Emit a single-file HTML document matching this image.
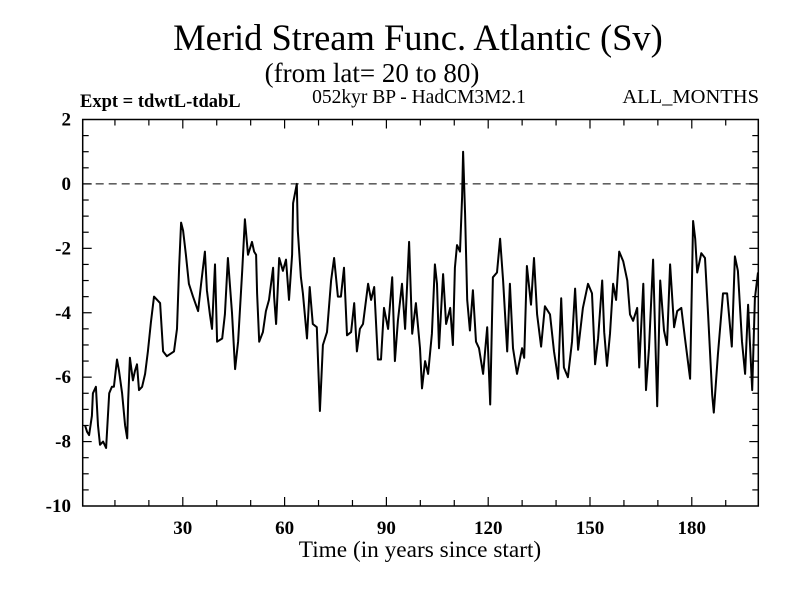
<!DOCTYPE html>
<html><head><meta charset="utf-8"><style>
html,body{margin:0;padding:0;background:#fff;}
svg{display:block;font-family:"Liberation Serif",serif;}
</style></head><body>
<svg id="chart" width="800" height="600" viewBox="0 0 800 600">
<text x="418" y="50" font-size="36.5" text-anchor="middle">Merid Stream Func. Atlantic (Sv)</text>
<text x="372" y="82" font-size="27" text-anchor="middle">(from lat= 20 to 80)</text>
<text x="80" y="107" font-size="18.5" font-weight="bold">Expt = tdwtL-tdabL</text>
<text x="419" y="103" font-size="19.5" text-anchor="middle">052kyr BP - HadCM3M2.1</text>
<text x="759" y="103" font-size="20.5" text-anchor="end">ALL_MONTHS</text>
<text x="420" y="557" font-size="23.3" text-anchor="middle">Time (in years since start)</text>
<g id="axes"></g>
<g id="series"></g>
</svg>
<script>
const years=[1.2,1.8,2.4,3.2,3.5,4.4,5.0,5.6,6.5,7.4,8.3,9.1,9.7,10.6,11.2,12.1,13.0,13.6,13.9,14.4,15.3,15.9,16.5,17.1,18.0,18.9,19.7,20.6,21.5,23.3,24.2,25.3,27.4,28.3,28.9,29.5,30.1,30.9,31.8,33.0,34.5,35.4,36.5,37.1,38.0,38.6,39.5,40.1,41.6,42.4,43.3,44.5,45.4,46.3,47.5,48.3,49.2,50.4,51.0,51.6,51.9,52.5,53.6,54.5,55.4,56.6,56.9,57.5,58.4,59.5,60.4,61.3,62.2,62.5,63.6,63.9,64.8,65.4,66.6,67.4,68.3,69.5,70.4,71.3,72.5,73.7,74.6,75.7,76.6,77.5,78.4,79.6,80.5,81.3,82.2,83.1,84.6,85.5,86.4,87.5,88.4,89.3,90.5,91.7,92.5,93.4,94.6,95.5,96.7,97.6,98.7,99.9,100.5,101.4,102.3,103.4,104.3,104.9,105.5,106.7,107.6,108.8,109.6,110.2,110.8,111.7,112.3,112.6,113.2,113.8,114.6,115.5,116.4,117.3,118.5,119.7,120.6,121.4,122.6,123.5,124.4,125.6,126.4,127.3,128.5,130.0,130.6,131.4,132.6,133.5,134.4,135.6,136.7,138.2,139.4,140.6,141.5,142.3,143.5,144.7,145.6,146.5,147.9,149.4,150.6,151.5,152.4,153.6,154.2,155.0,155.9,156.8,157.7,158.6,159.8,161.0,161.8,162.7,163.9,164.5,165.7,166.5,167.4,168.6,169.8,170.7,171.8,172.7,173.6,174.8,175.7,176.9,178.0,179.5,180.4,181.0,181.6,182.8,183.9,184.8,186.0,186.5,187.7,189.2,190.4,191.8,192.7,193.6,194.8,195.7,196.6,197.8,198.6,199.5];
const values=[-7.5,-7.7,-7.8,-7.2,-6.5,-6.3,-7.5,-8.1,-8.0,-8.2,-6.5,-6.3,-6.3,-5.45,-5.8,-6.5,-7.5,-7.9,-6.7,-5.4,-6.1,-5.8,-5.6,-6.4,-6.3,-5.9,-5.2,-4.3,-3.5,-3.7,-5.2,-5.35,-5.2,-4.5,-2.6,-1.2,-1.45,-2.2,-3.1,-3.5,-3.95,-3.1,-2.1,-3.3,-4.05,-4.5,-2.5,-4.9,-4.8,-4.05,-2.3,-4.0,-5.75,-4.9,-2.7,-1.1,-2.2,-1.8,-2.1,-2.2,-3.4,-4.9,-4.6,-3.95,-3.6,-2.6,-3.5,-4.35,-2.3,-2.7,-2.35,-3.6,-2.2,-0.6,0,-1.45,-2.9,-3.4,-4.8,-3.2,-4.35,-4.45,-7.05,-5.0,-4.6,-3.0,-2.3,-3.5,-3.5,-2.6,-4.7,-4.6,-3.7,-5.2,-4.5,-4.35,-3.1,-3.6,-3.2,-5.45,-5.45,-3.85,-4.5,-2.9,-5.5,-4.25,-3.1,-4.5,-1.8,-4.65,-3.7,-5.1,-6.35,-5.5,-5.9,-4.65,-2.5,-3.1,-5.1,-2.8,-4.35,-3.85,-5.0,-2.6,-1.9,-2.1,-0.4,1.0,-0.95,-3.6,-4.55,-3.3,-4.9,-5.1,-5.9,-4.45,-6.85,-2.9,-2.75,-1.7,-3.0,-5.2,-3.1,-5.1,-5.9,-5.1,-5.4,-2.55,-3.75,-2.3,-4.05,-5.05,-3.8,-4.05,-5.2,-6.05,-3.55,-5.7,-6.0,-4.9,-3.25,-5.15,-3.85,-3.1,-3.4,-5.6,-4.8,-3.0,-4.6,-5.65,-4.65,-3.1,-3.6,-2.1,-2.4,-3.0,-4.05,-4.25,-3.85,-5.7,-3.1,-6.4,-5.1,-2.35,-6.9,-3.0,-4.55,-5.0,-2.5,-4.45,-3.95,-3.85,-4.8,-6.05,-1.15,-1.7,-2.75,-2.15,-2.3,-4.05,-6.55,-7.1,-5.3,-3.4,-3.4,-5.05,-2.25,-2.7,-4.9,-5.9,-3.75,-6.4,-3.55,-2.75];
const xTickLabels=[30,60,90,120,150,180];
const yTickLabels=[2,0,-2,-4,-6,-8,-10];
const NS='http://www.w3.org/2000/svg';
const L=82.7,R=758.3,T=119.5,B=506;
const X0=0.5,X1=199.6,Y0=-10,Y1=2;
function sx(t){return L+(t-X0)/(X1-X0)*(R-L);}
function sy(v){return B-(v-Y0)/(Y1-Y0)*(B-T);}
const axes=document.getElementById('axes');
function mk(tag,attrs,parent){const e=document.createElementNS(NS,tag);for(const k in attrs)e.setAttribute(k,attrs[k]);parent.appendChild(e);return e;}
const frame=mk('rect',{x:L,y:T,width:R-L,height:B-T,fill:'none',stroke:'#000','stroke-width':1.5},axes);


const zl=mk('line',{x1:L,x2:R,y1:sy(0),y2:sy(0),stroke:'#000','stroke-width':1,'stroke-dasharray':'8,5'},axes);


for(let t=10;t<X1;t+=10){
  const len=(t%30===0)?9:6;
  const a=mk('line',{x1:sx(t),x2:sx(t),y1:B,y2:B-len,stroke:'#000','stroke-width':1.2},axes);
  
  
  const b=mk('line',{x1:sx(t),x2:sx(t),y1:T,y2:T+len,stroke:'#000','stroke-width':1.2},axes);
  
  
}
xTickLabels.forEach(t=>{
  const tx=mk('text',{x:sx(t),y:B+28,'font-size':19,'font-weight':'bold','text-anchor':'middle'},axes);
  tx.textContent=t;
  
  
});
for(let v=Y0+0.5;v<Y1;v+=0.5){
  const len=(Math.abs(v%2)<1e-6)?9:6;
  const a=mk('line',{x1:L,x2:L+len,y1:sy(v),y2:sy(v),stroke:'#000','stroke-width':1.2},axes);
  
  
  const b=mk('line',{x1:R,x2:R-len,y1:sy(v),y2:sy(v),stroke:'#000','stroke-width':1.2},axes);
  
  
}
yTickLabels.forEach(v=>{
  const tx=mk('text',{x:71,y:sy(v)+6,'font-size':19,'font-weight':'bold','text-anchor':'end'},axes);
  tx.textContent=v;
  
  
});
const pts=years.map((t,i)=>sx(t).toFixed(1)+','+sy(values[i]).toFixed(1)).join(' ');
const line=mk('polyline',{points:pts,fill:'none',stroke:'#000','stroke-width':2,'stroke-linejoin':'round'},document.getElementById('series'));


</script>
</body></html>
